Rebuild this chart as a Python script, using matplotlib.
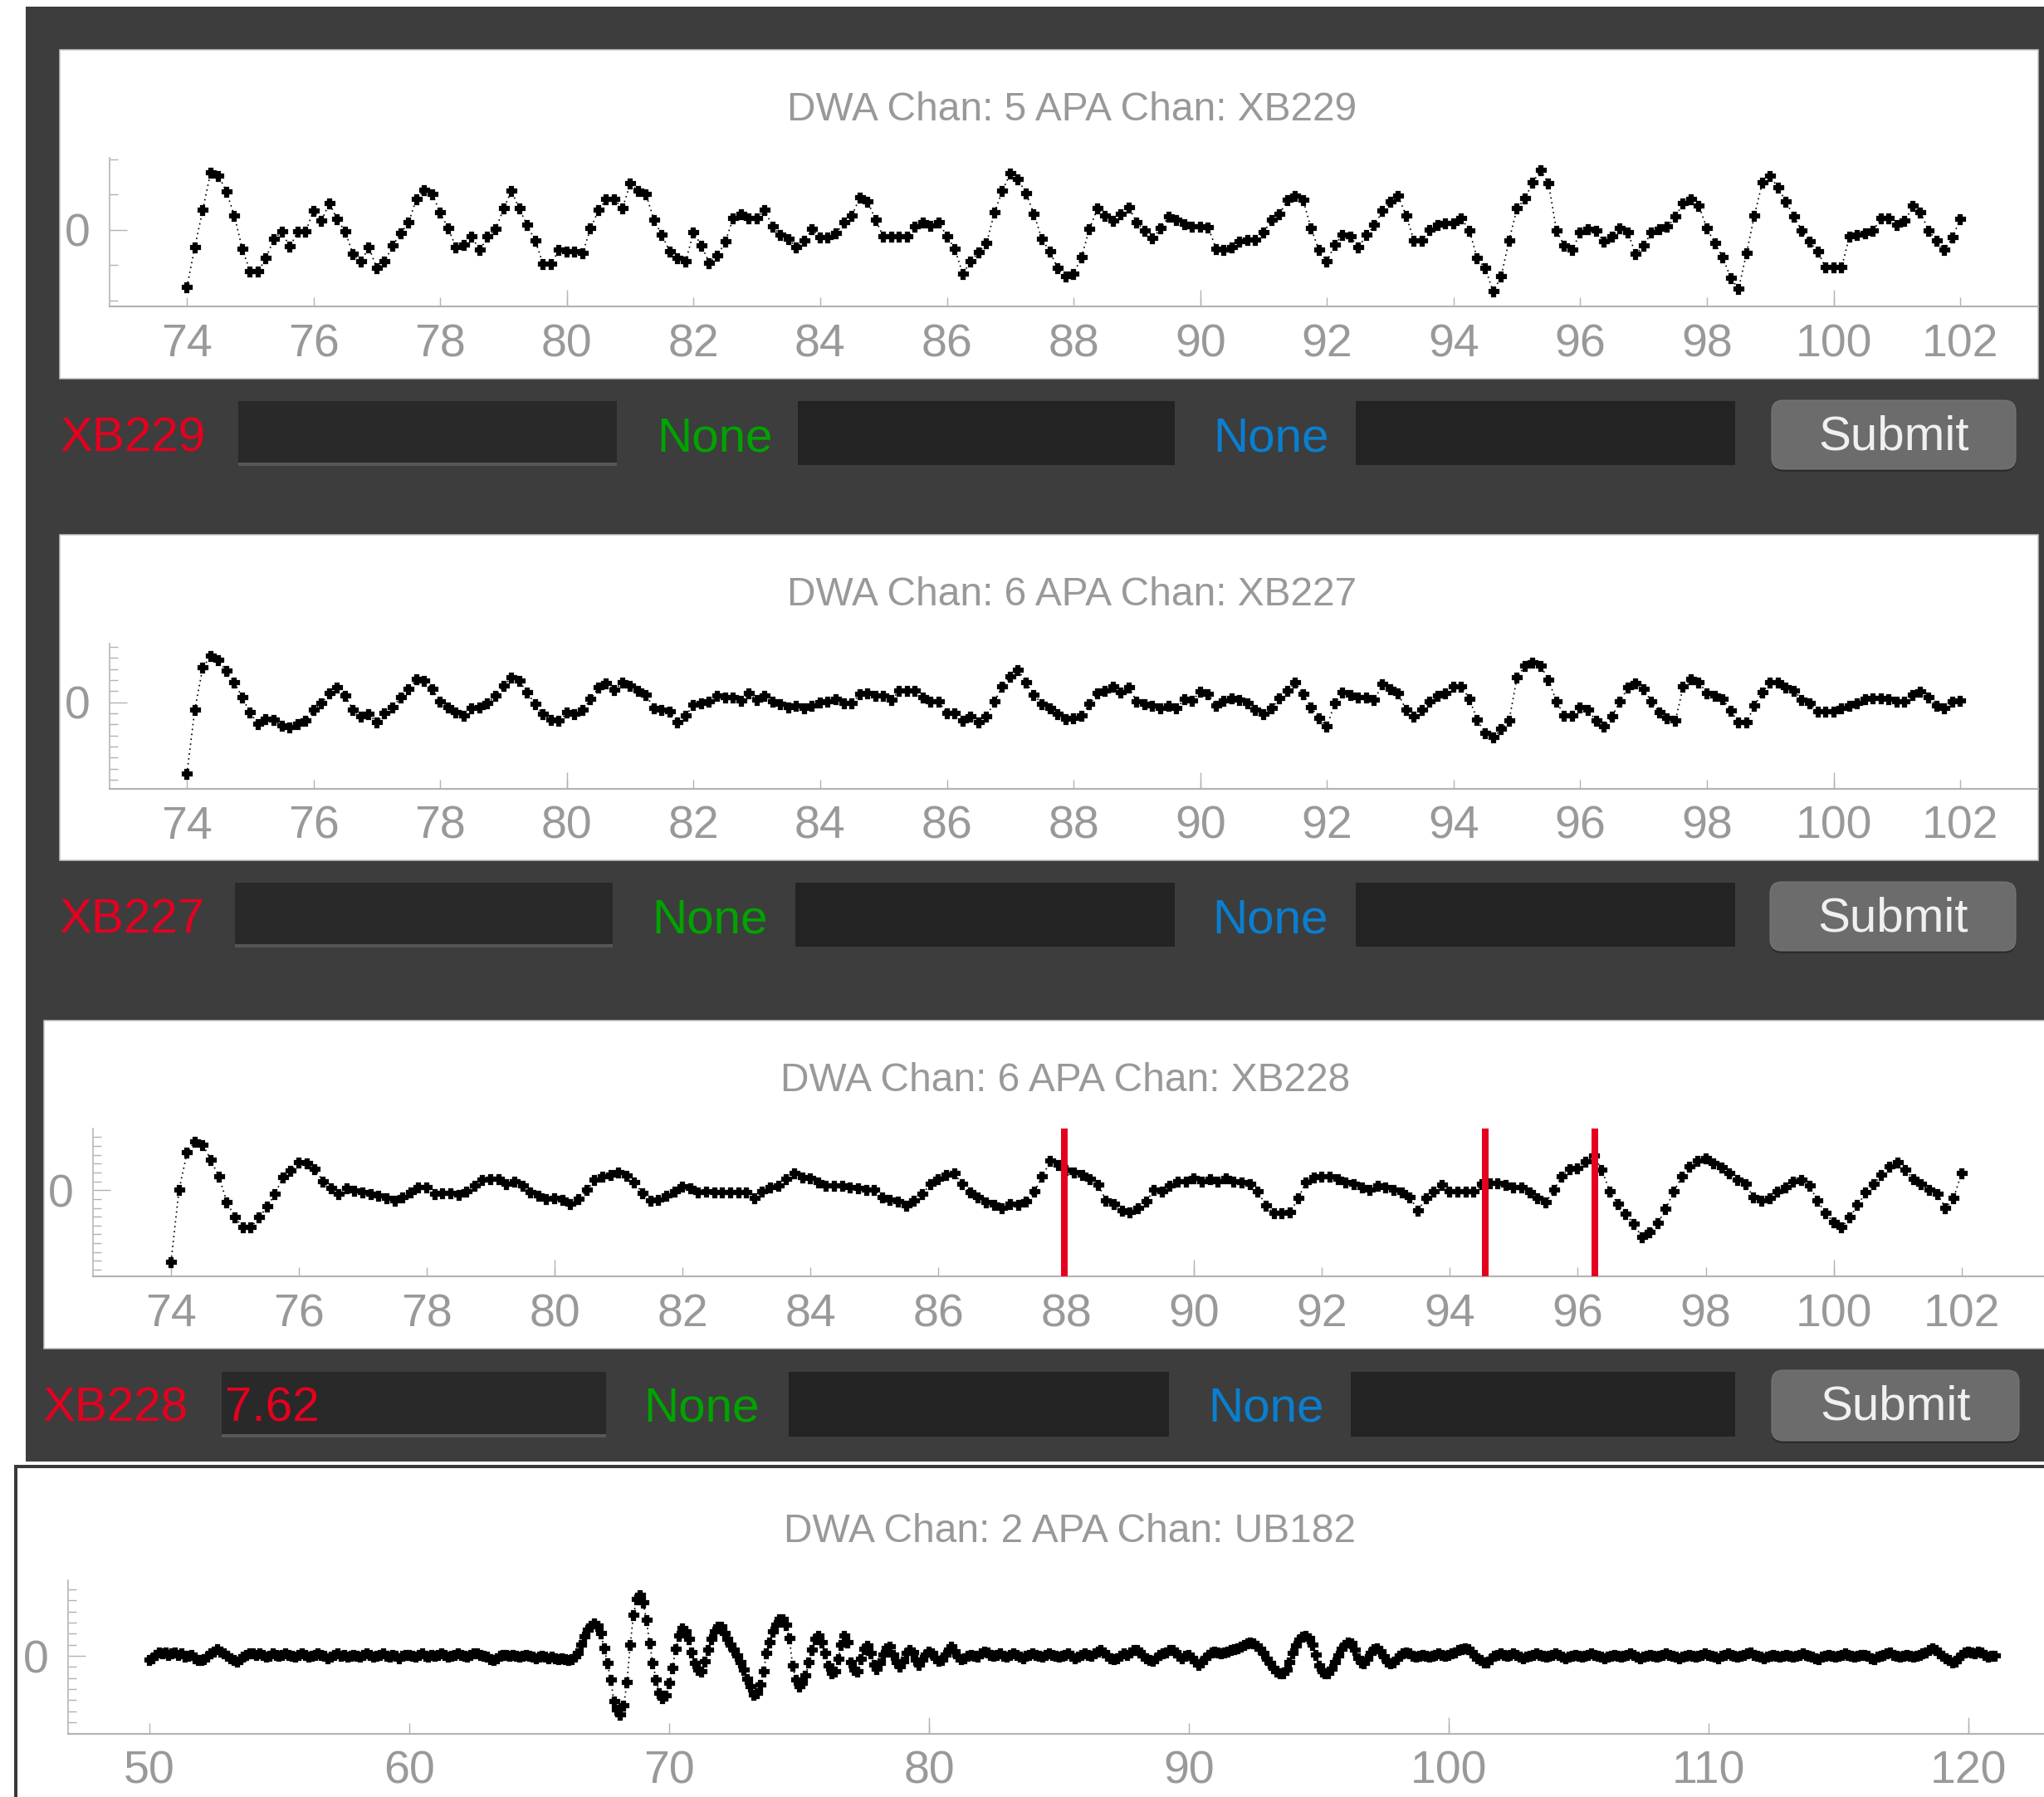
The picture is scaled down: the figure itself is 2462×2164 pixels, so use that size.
import numpy as np
import matplotlib
matplotlib.use("Agg")
import matplotlib.pyplot as plt
from matplotlib.patches import Rectangle, FancyBboxPatch

plt.rcParams['font.family'] = ['Liberation Sans', 'DejaVu Sans']

W, H = 2462, 2164
DPI = 100
STEP = 0.125

# ---------------------------------------------------------------- data
XB229_START = 74.0
XB229_VALUES = [
    -1.63, -0.49, 0.56, 1.63, 1.54, 1.09, 0.40, -0.53,
    -1.18, -1.18, -0.79, -0.25, -0.05, -0.48, -0.05, -0.05,
    0.55, 0.26, 0.76, 0.30, -0.05, -0.69, -0.89, -0.49,
    -1.09, -0.89, -0.44, -0.10, 0.21, 0.88, 1.14, 1.02,
    0.49, 0.05, -0.49, -0.42, -0.20, -0.57, -0.20, 0.02,
    0.60, 1.11, 0.60, 0.13, -0.30, -0.96, -0.96, -0.57,
    -0.61, -0.61, -0.65, 0.05, 0.56, 0.88, 0.88, 0.60,
    1.31, 1.11, 1.00, 0.29, -0.14, -0.61, -0.81, -0.89,
    -0.06, -0.45, -0.93, -0.73, -0.34, 0.33, 0.45, 0.33,
    0.33, 0.56, 0.09, -0.13, -0.26, -0.49, -0.30, 0.02,
    -0.22, -0.22, -0.10, 0.21, 0.41, 0.92, 0.80, 0.29,
    -0.20, -0.20, -0.20, -0.20, 0.09, 0.21, 0.11, 0.21,
    -0.18, -0.53, -1.24, -0.89, -0.63, -0.38, 0.49, 1.11,
    1.60, 1.43, 1.04, 0.45, -0.26, -0.61, -1.08, -1.32,
    -1.24, -0.77, 0.03, 0.60, 0.41, 0.25, 0.45, 0.64,
    0.21, -0.02, -0.24, 0.05, 0.37, 0.29, 0.17, 0.09,
    0.09, 0.08, -0.53, -0.57, -0.49, -0.34, -0.28, -0.28,
    -0.08, 0.29, 0.45, 0.84, 0.96, 0.84, 0.05, -0.57,
    -0.89, -0.42, -0.13, -0.20, -0.49, -0.14, 0.13, 0.53,
    0.80, 0.96, 0.41, -0.30, -0.30, 0.00, 0.13, 0.19,
    0.19, 0.33, -0.02, -0.81, -1.08, -1.75, -1.32, -0.30,
    0.60, 0.89, 1.35, 1.70, 1.31, -0.02, -0.45, -0.57,
    -0.06, 0.02, -0.02, -0.34, -0.18, 0.05, -0.06, -0.69,
    -0.45, -0.06, 0.03, 0.09, 0.37, 0.76, 0.88, 0.68,
    0.05, -0.38, -0.77, -1.36, -1.67, -0.65, 0.41, 1.35,
    1.52, 1.19, 0.80, 0.37, -0.02, -0.34, -0.61, -1.07,
    -1.07, -1.07, -0.18, -0.14, -0.09, -0.02, 0.33, 0.33,
    0.13, 0.25, 0.68, 0.49, -0.02, -0.30, -0.57, -0.22,
    0.31,
]

XB227_START = 74.0
XB227_VALUES = [
    -6.5, -0.7, 3.1, 4.18, 3.8, 2.8, 1.8, 0.43,
    -0.95, -1.95, -1.5, -1.6, -2.1, -2.3, -1.95, -1.7,
    -0.7, -0.08, 0.8, 1.3, 0.55, -0.7, -1.3, -1.1,
    -1.8, -1.0, -0.45, 0.43, 1.2, 2.05, 1.9, 1.2,
    0.05, -0.45, -0.95, -1.2, -0.58, -0.45, -0.08, 0.55,
    1.5, 2.2, 1.9, 0.9, -0.2, -1.1, -1.6, -1.7,
    -0.95, -1.1, -0.7, 0.3, 1.3, 1.7, 1.1, 1.8,
    1.5, 1.05, 0.68, -0.58, -0.7, -0.83, -1.8, -1.2,
    -0.28, -0.08, 0.05, 0.55, 0.43, 0.43, 0.13, 0.8,
    0.18, 0.55, 0.05, -0.15, -0.45, -0.33, -0.58, -0.33,
    -0.03, 0.05, 0.3, -0.08, -0.08, 0.73, 0.8, 0.55,
    0.55, 0.23, 1.05, 1.05, 1.05, 0.43, 0.05, 0.05,
    -1.0, -1.0, -1.7, -1.3, -1.8, -1.3, 0.05, 1.43,
    2.3, 2.9, 1.8, 0.68, -0.15, -0.58, -1.1, -1.5,
    -1.45, -1.2, -0.2, 0.8, 1.05, 1.38, 0.9, 1.3,
    0.05, -0.2, -0.33, -0.58, -0.33, -0.58, 0.3, 0.13,
    0.98, 0.73, -0.33, 0.13, 0.38, 0.23, -0.08, -0.7,
    -1.1, -0.58, 0.38, 1.05, 1.8, 0.73, -0.45, -1.45,
    -2.2, -0.08, 0.9, 0.68, 0.43, 0.43, 0.23, 1.6,
    1.2, 0.8, -0.7, -1.3, -0.7, 0.05, 0.55, 0.8,
    1.43, 1.43, 0.3, -1.6, -2.8, -3.2, -2.45, -1.7,
    2.2, 3.3, 3.55, 3.3, 2.0, 0.05, -1.2, -1.2,
    -0.45, -0.7, -1.7, -2.2, -1.3, 0.05, 1.3, 1.7,
    1.2, 0.05, -0.95, -1.45, -1.7, 1.38, 2.1, 1.8,
    0.8, 0.55, 0.3, -0.78, -1.8, -1.8, -0.33, 0.9,
    1.8, 1.8, 1.3, 1.05, 0.23, -0.08, -0.88, -0.88,
    -0.88, -0.58, -0.33, -0.08, 0.3, 0.38, 0.38, 0.3,
    0.05, 0.05, 0.68, 0.98, 0.43, -0.33, -0.58, 0.05,
    0.13,
]

XB228_START = 74.0
XB228_VALUES = [
    -8.1, 0.0, 4.2, 5.5, 5.1, 3.4, 1.5, -1.35,
    -3.1, -4.2, -4.2, -3.1, -1.9, -0.47, 1.47, 2.2,
    3.1, 3.0, 2.4, 1.0, 0.16, -0.47, 0.16, -0.1,
    -0.3, -0.47, -0.6, -0.9, -1.2, -0.8, -0.3, 0.3,
    0.3, -0.47, -0.38, -0.38, -0.56, -0.16, 0.47, 1.1,
    1.25, 1.2, 0.63, 0.94, 0.47, -0.25, -0.63, -1.0,
    -0.9, -1.1, -1.56, -1.0, 0.0, 1.1, 1.56, 1.7,
    2.0, 1.6, 0.88, -0.38, -1.2, -1.1, -0.63, -0.16,
    0.38, 0.16, -0.3, -0.16, -0.25, -0.3, -0.3, -0.3,
    -0.3, -0.94, -0.16, 0.3, 0.47, 1.2, 1.9, 1.4,
    1.3, 0.88, 0.47, 0.47, 0.47, 0.3, 0.16, 0.0,
    0.0, -0.8, -1.1, -1.25, -1.8, -1.2, -0.47, 0.7,
    1.25, 1.7, 1.9, 0.63, -0.3, -0.8, -1.4, -1.7,
    -2.0, -1.56, -1.7, -1.25, -0.16, 1.5, 3.3, 2.8,
    2.3, 2.0, 1.7, 1.25, 0.56, -1.2, -1.56, -2.3,
    -2.5, -2.0, -1.25, 0.0, -0.16, 0.47, 0.94, 1.0,
    1.3, 0.94, 1.25, 0.94, 1.3, 0.94, 0.88, 0.63,
    -0.16, -1.8, -2.65, -2.65, -2.56, -0.94, 0.88, 1.4,
    1.56, 1.5, 1.25, 0.88, 0.7, 0.3, 0.0, 0.47,
    0.3, 0.0, -0.3, -0.8, -2.3, -0.94, -0.16, 0.56,
    -0.16, -0.16, -0.16, -0.16, 0.63, 0.78, 0.78, 0.56,
    0.3, 0.3, -0.3, -0.88, -1.4, 0.0, 1.56, 2.4,
    2.5, 3.2, 3.9, 2.3, -0.16, -1.56, -2.75, -3.8,
    -5.3, -4.8, -3.75, -2.1, -0.16, 1.5, 2.65, 3.3,
    3.6, 3.0, 2.55, 1.9, 1.1, 0.63, -0.8, -1.2,
    -0.88, -0.16, 0.3, 0.94, 1.1, 0.47, -1.2, -2.65,
    -3.6, -4.2, -3.1, -1.7, -0.3, 0.7, 1.7, 2.65,
    3.1, 2.25, 1.25, 0.63, 0.06, -0.47, -2.0, -0.94,
    1.9,
]
XB228_MARKS = [87.97, 94.55, 96.27]

# UB182 sweep, stored in consecutive pieces (start frequency, values)
UB182_QUIET_START = 50.0
UB182_QUIET = [
    -0.4, -0.2, 0.1, 0.3, 0.2, 0.3, 0.1, 0.2,
    0.3, 0.1, 0.2, -0.1, 0.0, 0.1, -0.2, -0.4,
    -0.4, -0.3, -0.1, 0.2, 0.4, 0.6, 0.4, 0.2,
    0.0, -0.2, -0.4, -0.5, -0.3, -0.1, 0.1, 0.2,
    0.2, 0.1, 0.2, 0.1, -0.1, 0.0, 0.2, 0.1,
    0.0, 0.1, 0.2, 0.1, 0.0, -0.1, 0.1, 0.2,
    0.1, -0.1, 0.0, 0.1, 0.2, 0.1, 0.0, -0.2,
    -0.1, 0.1, 0.2, 0.0, 0.1, -0.1, 0.0, 0.1,
    0.0, -0.1, 0.1, 0.2, 0.1, -0.1, 0.0, 0.1,
    0.2, 0.0, -0.1, 0.1, 0.0, -0.2, 0.0, 0.1,
    0.1, 0.0, -0.1, 0.1, 0.2, 0.0, -0.1, 0.1,
    0.0, 0.1, 0.2, 0.1, -0.1, 0.0, 0.1, 0.2,
    0.1, 0.0, -0.1, 0.1, 0.2, 0.2, 0.1, 0.0,
    -0.1, -0.3, -0.4, -0.2, 0.0, 0.1, 0.1, 0.0,
    0.1, 0.0, -0.1, 0.0, 0.1, 0.0, -0.1, -0.2,
    -0.1, 0.0, -0.1, -0.2, -0.1, -0.2, -0.3, -0.2,
    -0.3, -0.4, -0.3, -0.1,
]
UB182_RING_START = 66.5
UB182_RING = [
    0.2, 1.0, 1.7, 2.3,
    2.7, 2.9, 2.7, 2.0, 0.7, -0.7, -2.2, -4.1,
    -4.9, -5.3, -4.5, -2.4, 1.0, 3.7, 5.1, 5.5,
    4.8, 3.2, 1.1, -0.7, -2.2, -3.4, -3.8, -3.6,
    -2.5, -1.1, 0.6, 1.8, 2.5, 2.2, 1.5, 0.3,
    -0.7, -1.3, -1.4, -0.5, 0.5, 1.5, 2.2, 2.6,
    2.6, 2.0, 1.5, 1.0, 0.5, 0.0, -0.6, -1.3,
    -2.1, -2.8, -3.5, -3.4, -2.6, -1.4, 0.2, 1.2,
    2.2, 2.8, 3.3, 3.3, 2.8, 1.6, -0.9, -2.2,
    -2.8, -2.5, -1.8, -0.6, 0.5, 1.5, 1.8, 1.2,
    0.2, -0.9, -1.6, -1.4, -0.3, 1.0, 1.8, 1.2,
]
UB182_DECAY_START = 77.0
UB182_DECAY = [
    -0.6, -1.3, -1.4, -0.3, 0.6, 0.9, 0.2, -0.8,
    -1.2, -0.7, 0.1, 0.7, 0.8, 0.1, -0.6, -0.95,
    -0.5, 0.2, 0.55, 0.3, -0.4, -0.8, -0.4, 0.1,
    0.4, 0.2, -0.2, -0.45, -0.4, 0.1, 0.5, 0.8,
    0.4, -0.1, -0.3, -0.2, 0.0, 0.1, 0.0, -0.1,
]
UB182_MID_START = 82.0
UB182_MID = [
    0.2, 0.4, 0.3, 0.1, 0.0, 0.1, 0.2, 0.0,
    -0.1, 0.1, 0.2, 0.1, -0.1, -0.2, 0.0, 0.1,
    0.2, 0.1, 0.0, -0.1, 0.1, 0.2, 0.1, 0.0,
    -0.1, 0.0, 0.1, 0.2, 0.0, -0.2, -0.1, 0.1,
    0.2, 0.1, 0.0, 0.2, 0.4, 0.5, 0.3, 0.0,
    -0.2, -0.3, -0.2, 0.0, 0.2, 0.1, 0.3, 0.5,
    0.5, 0.3, 0.0, -0.2, -0.4, -0.45, -0.2, 0.1,
    0.2, 0.3, 0.5, 0.55, 0.3, 0.0, -0.2, 0.0,
    0.1, -0.2, -0.5, -0.8, -0.6, -0.2, 0.1, 0.3,
    0.4, 0.3, 0.2, 0.3, 0.4, 0.5, 0.6, 0.7,
]
UB182_SECOND_START = 92.0
UB182_SECOND = [
    0.8, 1.0, 1.1, 1.2, 1.1, 0.9, 0.6, 0.2,
    -0.3, -0.7, -1.1, -1.4, -1.6, -1.6, -1.3, -0.6,
    0.2, 0.9, 1.4, 1.7, 1.8, 1.6, 1.0, 0.1,
    -0.9, -1.4, -1.6, -1.6, -1.2, -0.6, 0.0, 0.6,
    1.0, 1.2, 1.1, 0.5, -0.2, -0.6, -0.7, -0.3,
    0.2, 0.6, 0.7, 0.4, -0.1, -0.5, -0.7, -0.6,
    -0.3, 0.0, 0.2, 0.3, 0.2, 0.0, -0.1, 0.0,
    0.1, 0.0, -0.1, 0.0, 0.1, 0.2, 0.1, 0.0,
]
UB182_TAIL_START = 100.0
UB182_TAIL = [
    0.1, 0.2, 0.3, 0.5, 0.6, 0.7, 0.6, 0.3,
    0.0, -0.2, -0.4, -0.6, -0.6, -0.3, 0.0, 0.1,
    0.2, 0.1, 0.0, 0.1, 0.2, 0.1, -0.1, -0.2,
    -0.1, 0.0, 0.1, 0.2, 0.1, 0.0, -0.1, 0.0,
    0.1, 0.2, 0.1, -0.1, -0.2, -0.1, 0.0, 0.1,
    0.0, -0.1, 0.0, 0.1, 0.2, 0.1, 0.0, -0.1,
    -0.2, -0.1, 0.0, 0.1, 0.0, -0.1, 0.0, 0.1,
    0.2, 0.1, -0.1, -0.2, -0.1, 0.0, 0.1, 0.0,
    -0.1, 0.0, 0.1, 0.2, 0.1, 0.0, -0.1, -0.2,
    -0.1, 0.0, 0.1, 0.0, -0.1, 0.0, 0.1, 0.2,
    0.1, 0.0, -0.1, -0.2, 0.0, 0.1, 0.2, 0.1,
    0.0, -0.1, 0.0, 0.1, 0.2, 0.3, 0.1, 0.0,
    -0.1, -0.2, -0.1, 0.0, 0.1, 0.0, -0.1, 0.0,
    0.1, 0.0, -0.1, 0.0, 0.1, 0.2, 0.1, 0.0,
    -0.1, -0.2, -0.3, -0.1, 0.0, 0.1, 0.0, -0.1,
    0.0, 0.1, 0.2, 0.1, 0.0, -0.1, 0.0, 0.1,
    0.1, 0.0, -0.2, -0.3, -0.1, 0.0, 0.1, 0.2,
    0.3, 0.1, 0.0, -0.1, 0.0, 0.1, 0.0, -0.1,
    0.0, 0.1, 0.2, 0.3, 0.5, 0.7, 0.5, 0.2,
    0.0, -0.2, -0.4, -0.6, -0.5, -0.2, 0.1, 0.3,
    0.4, 0.3, 0.2, 0.4, 0.3, 0.1, -0.1, 0.0,
    0.0,
]

TITLES = ["DWA Chan: 5 APA Chan: XB229", "DWA Chan: 6 APA Chan: XB227",
          "DWA Chan: 6 APA Chan: XB228", "DWA Chan: 2 APA Chan: UB182"]
ROW_NAMES = ["XB229", "XB227", "XB228"]
ROW_ENTRIES = ["", "", "7.62"]
XTICKS_NARROW = list(range(74, 103, 2))
XTICKS_WIDE = list(range(50, 121, 10))

# ---------------------------------------------------------------- styling
DARK = '#3d3d3d'
FIELD_A = '#292929'
FIELD_B = '#232323'
BUTTON = '#6c6c6c'
RED = '#e5001f'
GREEN = '#00a300'
BLUE = '#0a7fd0'
AXIS_GRAY = '#b3b3b3'
LABEL_GRAY = '#999999'
PT = 72.0 / DPI  # points per pixel

fig = plt.figure(figsize=(W / DPI, H / DPI), dpi=DPI, facecolor='white')
canvas = fig.add_axes([0, 0, 1, 1])
canvas.set_xlim(0, W)
canvas.set_ylim(H, 0)
canvas.axis('off')


def rect(x0, y0, x1, y1, **kw):
    canvas.add_patch(Rectangle((x0, y0), x1 - x0, y1 - y0, **kw))


# dark application window and white plot panels
rect(31, 8, W + 5, 1760, facecolor=DARK, edgecolor='none')
for (x0, y0, x1, y1) in [(72, 60, 2455, 456), (72, 644, 2455, 1036), (53, 1229, W + 2, 1624)]:
    rect(x0, y0, x1, y1, facecolor='white', edgecolor='#c4c4c4', linewidth=1.5 * PT)
# separate window underneath
rect(19, 1766, W + 20, H + 20, facecolor='white', edgecolor='#3a3a3a', linewidth=4 * PT)

# control rows under each plot
rows = [
    dict(base=543, top=483, bot=560, lab=73, f1=(287, 743), g=791, f2=(961, 1415), b=1461,
         f3=(1633, 2090), btn=(2134, 482, 2428, 565)),
    dict(base=1123, top=1063, bot=1140, lab=72, f1=(283, 738), g=785, f2=(958, 1415), b=1460,
         f3=(1633, 2090), btn=(2132, 1062, 2428, 1145)),
    dict(base=1712, top=1652, bot=1730, lab=52, f1=(267, 730), g=775, f2=(950, 1408), b=1455,
         f3=(1627, 2090), btn=(2134, 1650, 2432, 1735)),
]
CTRL_FS = 42
for name, entry, r in zip(ROW_NAMES, ROW_ENTRIES, rows):
    canvas.text(r['lab'], r['base'], name, color=RED, fontsize=CTRL_FS, va='baseline', ha='left')
    rect(r['f1'][0], r['top'], r['f1'][1], r['bot'], facecolor=FIELD_A, edgecolor='none')
    rect(r['f1'][0], r['bot'] - 3, r['f1'][1], r['bot'] + 1, facecolor='#565656', edgecolor='none')
    if entry:
        canvas.text(r['f1'][0] + 4, r['base'], entry, color=RED, fontsize=CTRL_FS,
                    va='baseline', ha='left')
    canvas.text(r['g'], r['base'], 'None', color=GREEN, fontsize=CTRL_FS, va='baseline', ha='left')
    rect(r['f2'][0], r['top'], r['f2'][1], r['bot'], facecolor=FIELD_B, edgecolor='none')
    canvas.text(r['b'], r['base'], 'None', color=BLUE, fontsize=CTRL_FS, va='baseline', ha='left')
    rect(r['f3'][0], r['top'], r['f3'][1], r['bot'], facecolor=FIELD_B, edgecolor='none')
    bx0, by0, bx1, by1 = r['btn']
    canvas.add_patch(FancyBboxPatch((bx0, by0 + 3), bx1 - bx0, by1 - by0,
                                    boxstyle='round,pad=0,rounding_size=14',
                                    facecolor='#2c2c2c', edgecolor='none'))
    canvas.add_patch(FancyBboxPatch((bx0, by0), bx1 - bx0, by1 - by0,
                                    boxstyle='round,pad=0,rounding_size=14',
                                    facecolor=BUTTON, edgecolor='#7a7a7a', linewidth=1 * PT))
    canvas.text((bx0 + bx1) / 2, r['base'] - 2, 'Submit', color='#f0f0f0', fontsize=CTRL_FS,
                va='baseline', ha='center')

# plot titles
for title, (cx, base) in zip(TITLES, [(1291, 145), (1291, 729), (1283, 1314), (1288, 1857)]):
    canvas.text(cx, base, title, color=LABEL_GRAY, fontsize=34.5, ha='center', va='baseline')


# ---------------------------------------------------------------- plots
def px_axes(left, top, right, bottom):
    return fig.add_axes([left / W, 1 - bottom / H, (right - left) / W, (bottom - top) / H])


def style(ax, xlim, ylim, xticks, long_ticks, major_len, yminor):
    ax.set_facecolor('none')
    ax.set_xlim(*xlim)
    ax.set_ylim(*ylim)
    for s in ('top', 'right'):
        ax.spines[s].set_visible(False)
    ax.spines['bottom'].set_color(AXIS_GRAY)
    ax.spines['bottom'].set_linewidth(2.2 * PT)
    ax.spines['left'].set_color(AXIS_GRAY)
    ax.spines['left'].set_linewidth(1.6 * PT)
    ax.set_xticks(xticks)
    ax.set_xticklabels([str(t) for t in xticks])
    ax.set_xticks(long_ticks, minor=True)
    ax.xaxis.remove_overlapping_locs = False
    ax.set_yticks([0])
    ax.set_yticklabels(['0'])
    ax.set_yticks(yminor, minor=True)
    ax.tick_params(axis='x', which='major', direction='in', length=major_len * PT,
                   width=1.4 * PT, color=AXIS_GRAY, labelsize=40, labelcolor=LABEL_GRAY,
                   pad=20 * PT)
    ax.tick_params(axis='x', which='minor', direction='in', length=20 * PT,
                   width=1.4 * PT, color=AXIS_GRAY)
    ax.tick_params(axis='y', which='major', direction='in', length=21 * PT,
                   width=1.4 * PT, color=AXIS_GRAY, labelsize=40, labelcolor=LABEL_GRAY,
                   pad=23 * PT)
    ax.tick_params(axis='y', which='minor', direction='in', length=10 * PT,
                   width=1.4 * PT, color=AXIS_GRAY)


def trace(ax, start, values):
    x = start + STEP * np.arange(len(values))
    ax.plot(x, values, color='black', linestyle=(0, (1, 2.5)), linewidth=1.7 * PT,
            marker='P', markersize=11 * PT, markeredgewidth=2.2 * PT,
            markeredgecolor='black', markerfacecolor='black', zorder=2)


ax1 = px_axes(132, 190, 2455, 369)
style(ax1, (72.78, 103.23), (-2.165, 2.047), XTICKS_NARROW, [80, 90, 100], 11,
      [-2, -1, 1, 2])
trace(ax1, XB229_START, XB229_VALUES)

ax2 = px_axes(132, 775, 2455, 950)
style(ax2, (72.78, 103.23), (-7.82, 5.30), XTICKS_NARROW, [80, 90, 100], 11,
      [v for v in range(-7, 6) if v != 0])
trace(ax2, XB227_START, XB227_VALUES)

ax3 = px_axes(112, 1359, W, 1537)
style(ax3, (72.78, 103.29), (-9.74, 6.96), XTICKS_NARROW, [80, 90, 100], 11,
      [v for v in range(-9, 7) if v != 0])
trace(ax3, XB228_START, XB228_VALUES)
for f in XB228_MARKS:
    ax3.axvline(f, color=RED, linewidth=8 * PT, zorder=3)

ax4 = px_axes(82, 1903, W, 2088)
style(ax4, (46.87, 122.9), (-7.05, 6.83), XTICKS_WIDE, [80, 100, 120], 13,
      [v for v in range(-6, 7) if v != 0])
for start, vals in [(UB182_QUIET_START, UB182_QUIET), (UB182_RING_START, UB182_RING),
                    (UB182_DECAY_START, UB182_DECAY), (UB182_MID_START, UB182_MID),
                    (UB182_SECOND_START, UB182_SECOND), (UB182_TAIL_START, UB182_TAIL)]:
    trace(ax4, start, vals)

fig.savefig('out.png', dpi=DPI, facecolor='white')
